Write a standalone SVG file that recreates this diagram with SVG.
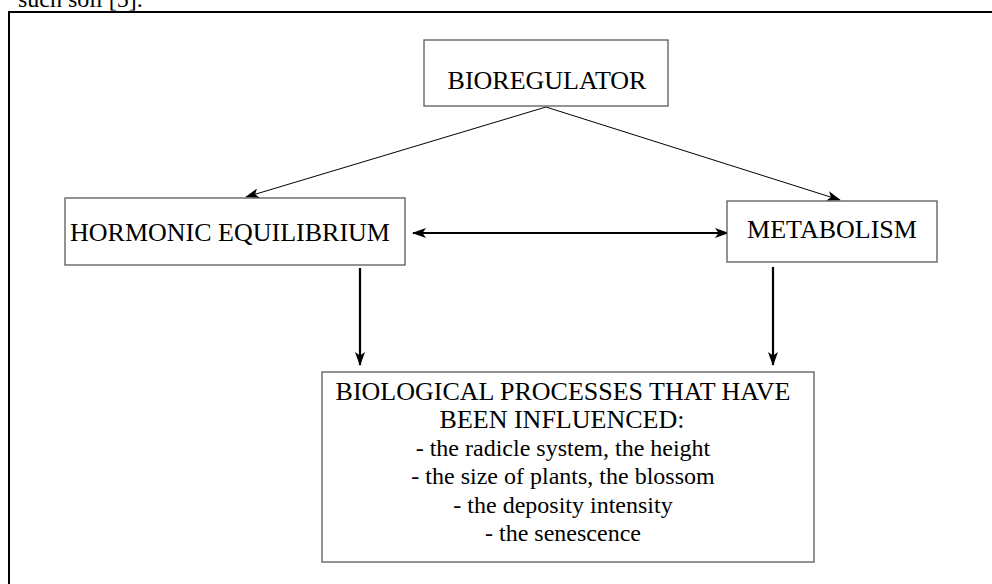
<svg xmlns="http://www.w3.org/2000/svg" width="992" height="584" viewBox="0 0 992 584">
<defs>
<style>
.box{fill:#fff;stroke:#5a5a5a;stroke-width:1.3}
.t{font-family:"Liberation Serif","Times New Roman",serif;font-size:24px;fill:#000}
.cap{font-size:26px}
.c{text-anchor:middle}
.thin{stroke:#000;stroke-width:1;fill:none}
.thick{stroke:#000;stroke-width:2.2;fill:none}
</style>
<marker id="ah" viewBox="0 0 14 10" refX="13" refY="5" markerWidth="14" markerHeight="10" markerUnits="userSpaceOnUse" orient="auto-start-reverse">
<path d="M0,0 L14,5 L0,10 L3.5,5 z" fill="#000"/>
</marker>
</defs>
<rect width="992" height="584" fill="#fff"/>
<text class="t" x="18" y="7">such soil [5].</text>
<g id="frame">
<line x1="8" y1="12" x2="992" y2="12" stroke="#000" stroke-width="2"/>
<line x1="9" y1="11" x2="9" y2="584" stroke="#000" stroke-width="2"/>
</g>
<g id="connectors">
<line class="thin" x1="546" y1="107" x2="246" y2="197" marker-end="url(#ah)"/>
<line class="thin" x1="546" y1="107" x2="840" y2="200" marker-end="url(#ah)"/>
<line class="thick" x1="413" y1="233" x2="728" y2="233" marker-start="url(#ah)" marker-end="url(#ah)"/>
<line class="thick" x1="360" y1="268" x2="360" y2="365" marker-end="url(#ah)"/>
<line class="thick" x1="773" y1="267" x2="773" y2="365" marker-end="url(#ah)"/>
</g>
<g id="bioregulator">
<rect class="box" x="424" y="40" width="244" height="66"/>
<text class="t cap c" x="547" y="89">BIOREGULATOR</text>
</g>
<g id="hormonic">
<rect class="box" x="65" y="198" width="340" height="67"/>
<text class="t cap c" x="230" y="241">HORMONIC EQUILIBRIUM</text>
</g>
<g id="metabolism">
<rect class="box" x="727" y="201" width="210" height="61"/>
<text class="t cap c" x="832" y="238">METABOLISM</text>
</g>
<g id="processes">
<rect class="box" x="322" y="372" width="492" height="190"/>
<text class="t cap c" x="563" y="400">BIOLOGICAL PROCESSES THAT HAVE</text>
<text class="t cap c" x="562" y="428">BEEN INFLUENCED:</text>
<text class="t c" x="563" y="456">- the radicle system, the height</text>
<text class="t c" x="563" y="484">- the size of plants, the blossom</text>
<text class="t c" x="563" y="513">- the deposity intensity</text>
<text class="t c" x="563" y="541">- the senescence</text>
</g>
</svg>
